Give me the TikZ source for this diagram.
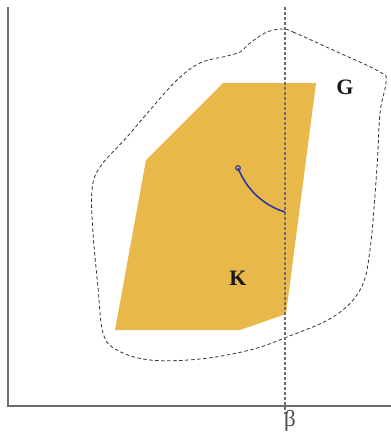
\documentclass[tikz,border=0pt]{standalone}
\usepackage{fontspec}
\setmainfont{Liberation Serif}
\definecolor{kgold}{HTML}{E8B84A}
\definecolor{pathblue}{HTML}{2E3A9A}
\definecolor{axisgray}{HTML}{6E6E6E}
\tikzset{
  axisline/.style={draw=axisgray, line width=1.4pt},
  betaline/.style={draw=axisgray, line width=1.2pt, dash pattern=on 3pt off 2pt},
  gcurve/.style={draw=black!80, line width=0.8pt, dash pattern=on 3.5pt off 2.5pt},
  kfill/.style={fill=kgold, draw=none},
  bluepath/.style={draw=pathblue, line width=1.6pt},
  biglabel/.style={font=\fontsize{22}{24}\selectfont\bfseries, text=black!90, inner sep=0pt},
  betalabel/.style={font=\fontsize{23}{25}\selectfont, text=black!70, inner sep=0pt}
}
\begin{document}
\begin{tikzpicture}[x=1pt, y=-1pt]
\useasboundingbox (0,0) rectangle (391,434);
% K polygon
\fill[kfill] (223,83) -- (316,83) -- (286,314) -- (240,330) -- (115,330) -- (146,160) -- cycle;
% G curve
\draw[gcurve] plot[smooth cycle, tension=0.6] coordinates {
 (283,29) (293,32) (333,50) (380,72) (386,82) (380,113) (377,167) (370,250) (360,290) (333,317) (287,337) (250,350) (200,359) (150,360) (117,350) (103,333) (98,287) (93,233) (92,190) (100,167) (127,137) (150,110) (177,80) (200,63) (227,56) (240,52) (250,43) (267,32)};
% axes
\coordinate (o) at (8,406);
\coordinate (ytop) at (8,7);
\coordinate (xend) at (391,406);
\draw[axisline] (ytop) -- (o) -- (xend);
% beta line
\coordinate (btop) at (285,7);
\coordinate (bbot) at (285,414);
\draw[betaline] (btop) -- (bbot);
% blue path
\coordinate (p0) at (238,168);
\coordinate (p1) at (285,212);
\draw[bluepath] (p0) .. controls (246,188) and (262,205) .. (p1);
\draw[draw=pathblue, line width=1.1pt] (p0) circle (2.4pt);
% labels
\node[biglabel] (K) at (238,278) {K};
\node[biglabel] (G) at (345,87) {G};
\node[betalabel] (beta) at (290,421) {β};
\end{tikzpicture}
\end{document}
